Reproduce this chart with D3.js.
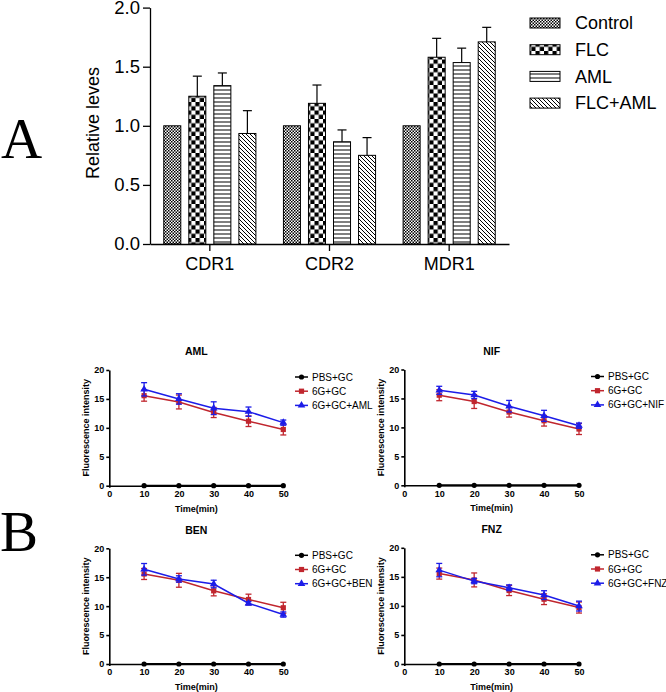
<!DOCTYPE html>
<html><head><meta charset="utf-8">
<script src="https://cdn.jsdelivr.net/npm/d3@7"></script>
<style>body{margin:0;background:#fff}svg{display:block}</style>
</head><body>
<svg id="c" width="666" height="692"></svg>
<script>
// ---------- Panel A data ----------
const categories = ["CDR1", "CDR2", "MDR1"];
const groups = ["Control", "FLC", "AML", "FLC+AML"];
const meanControl = [1.0, 1.0, 1.0];
const meanFLC = [1.25, 1.19, 1.58];
const meanAML = [1.34, 0.865, 1.535];
const meanFLCAML = [0.935, 0.75, 1.71];
const errControl = [0, 0, 0];
const errFLC = [0.17, 0.155, 0.16];
const errAML = [0.107, 0.10, 0.122];
const errFLCAML = [0.193, 0.15, 0.123];
const yTicksA = [0, 0.5, 1.0, 1.5, 2.0];

// ---------- Panel B data ----------
const times = [10, 20, 30, 40, 50];
const xTicksB = [0, 10, 20, 30, 40, 50];
const yTicksB = [0, 5, 10, 15, 20];
const pbsGC = [0, 0, 0, 0, 0];
const g6GC = [15.56, 14.47, 12.65, 11.15, 9.72];
const g6GCErr = [0.95, 1.2, 0.87, 0.92, 0.95];
const amlVals = [16.66, 15.0, 13.4, 12.8, 10.9];
const amlErr = [1.15, 0.9, 1.1, 0.8, 0.45];
const nifVals = [16.4, 15.6, 13.66, 12.0, 10.3];
const nifErr = [0.7, 0.63, 1.0, 0.95, 0.45];
const benVals = [16.37, 14.7, 13.83, 10.5, 8.55];
const benErr = [1.0, 0.55, 0.65, 0.3, 0.45];
const fnzVals = [16.16, 14.27, 13.12, 11.86, 9.97];
const fnzErr = [1.15, 0.45, 0.5, 0.75, 0.85];
const panelTitles = ["AML", "NIF", "BEN", "FNZ"];

const svg = d3.select("#c");
const defs = svg.append("defs");

// patterns
function pat(id, w, h, draw) {
  const p = defs.append("pattern").attr("id", id).attr("patternUnits", "userSpaceOnUse")
    .attr("width", w).attr("height", h);
  p.append("rect").attr("width", w).attr("height", h).attr("fill", "#fff");
  draw(p);
}
pat("pControl", 3, 3, p => {
  p.append("rect").attr("x", 0).attr("y", 0).attr("width", 1.5).attr("height", 1.5).attr("fill", "#000");
  p.append("rect").attr("x", 1.5).attr("y", 1.5).attr("width", 1.5).attr("height", 1.5).attr("fill", "#000");
});
pat("pFLC", 8.5, 8.5, p => {
  p.append("rect").attr("x", 0).attr("y", 0).attr("width", 4.25).attr("height", 4.25).attr("fill", "#000");
  p.append("rect").attr("x", 4.25).attr("y", 4.25).attr("width", 4.25).attr("height", 4.25).attr("fill", "#000");
});
pat("pAML", 4, 4, p => {
  p.append("rect").attr("x", 0).attr("y", 1.5).attr("width", 4).attr("height", 1).attr("fill", "#000");
});
pat("pFLCAML", 4, 4, p => {
  p.append("path").attr("d", "M-1,-1 L5,5 M-1,3 L1,5 M3,-1 L5,1")
    .attr("stroke", "#000").attr("stroke-width", 1);
});
const patIds = ["pControl", "pFLC", "pAML", "pFLCAML"];
const means = [meanControl, meanFLC, meanAML, meanFLCAML];
const errs = [errControl, errFLC, errAML, errFLCAML];

// ---------- Panel A ----------
const gA = svg.append("g");
const yA = d3.scaleLinear().domain([0, 2]).range([244, 7.6]);
const x0 = d3.scaleBand().domain(categories).range([150, 509]);
const x1 = d3.scaleBand().domain(groups).range([0, x0.bandwidth()]).paddingInner(0.32).paddingOuter(0.55);

const barData = [];
categories.forEach((c, ci) => groups.forEach((g, gi) => {
  barData.push({ c, g, gi, v: means[gi][ci], e: errs[gi][ci] });
}));

gA.selectAll("rect.bar").data(barData).join("rect").attr("class", "bar")
  .attr("x", d => x0(d.c) + x1(d.g))
  .attr("width", x1.bandwidth())
  .attr("y", d => yA(d.v))
  .attr("height", d => yA(0) - yA(d.v))
  .attr("fill", d => `url(#${patIds[d.gi]})`)
  .attr("stroke", "#000").attr("stroke-width", 1);

const errG = gA.selectAll("g.err").data(barData.filter(d => d.e > 0)).join("g").attr("class", "err");
errG.append("line")
  .attr("x1", d => x0(d.c) + x1(d.g) + x1.bandwidth() / 2)
  .attr("x2", d => x0(d.c) + x1(d.g) + x1.bandwidth() / 2)
  .attr("y1", d => yA(d.v)).attr("y2", d => yA(d.v + d.e))
  .attr("stroke", "#000").attr("stroke-width", 1.2);
errG.append("line")
  .attr("x1", d => x0(d.c) + x1(d.g) + x1.bandwidth() / 2 - 4.5)
  .attr("x2", d => x0(d.c) + x1(d.g) + x1.bandwidth() / 2 + 4.5)
  .attr("y1", d => yA(d.v + d.e)).attr("y2", d => yA(d.v + d.e))
  .attr("stroke", "#000").attr("stroke-width", 1.2);

const axYA = gA.append("g").attr("transform", "translate(150,0)")
  .call(d3.axisLeft(yA).tickValues(yTicksA).tickFormat(d3.format(".1f")).tickSize(7).tickSizeOuter(0).tickPadding(3));
const axXA = gA.append("g").attr("transform", "translate(0,244)")
  .call(d3.axisBottom(x0).tickSize(7).tickSizeOuter(0).tickPadding(6));
[axYA, axXA].forEach(a => {
  a.selectAll("path,line").attr("stroke", "#000").attr("stroke-width", 1.3);
  a.selectAll("text").attr("font-family", "Liberation Sans, Arial, sans-serif").attr("font-size", 18).attr("fill", "#000");
});
axYA.selectAll("text").attr("font-size", 18.5);

gA.append("text").attr("transform", "translate(99,123) rotate(-90)")
  .attr("text-anchor", "middle").attr("font-family", "Liberation Sans, Arial, sans-serif")
  .attr("font-size", 18).text("Relative leves");

gA.append("text").attr("x", 1).attr("y", 158).attr("font-family", "Liberation Serif, Times New Roman, serif")
  .attr("font-size", 57).text("A");

// legend A
const legA = gA.append("g");
groups.forEach((g, i) => {
  const yy = 23 + i * 26.7;
  legA.append("rect").attr("x", 530).attr("y", yy - 5).attr("width", 30).attr("height", 10)
    .attr("fill", `url(#${patIds[i]})`).attr("stroke", "#000").attr("stroke-width", 1);
  legA.append("text").attr("x", 575).attr("y", yy).attr("dy", "0.35em")
    .attr("font-family", "Liberation Sans, Arial, sans-serif").attr("font-size", 18).text(g);
});

// ---------- Panel B ----------
const RED = "#c0262e", BLUE = "#1c1ce8";
const treatVals = [amlVals, nifVals, benVals, fnzVals];
const treatErr = [amlErr, nifErr, benErr, fnzErr];
const layouts = [
  { x: [109.3, 283.3], y: [485.7, 370], leg: 295 },
  { x: [404.3, 579.0], y: [485.3, 369.5], leg: 591 },
  { x: [109.3, 283.3], y: [664, 548.3], leg: 295 },
  { x: [404.3, 579.0], y: [664, 547.8], leg: 591 }
];
const FONT = "Liberation Sans, Arial, sans-serif";

function marker(sel, type, color, size) {
  if (type === "circle") return sel.append("circle").attr("r", size).attr("fill", color);
  if (type === "square") return sel.append("rect").attr("x", -size).attr("y", -size)
    .attr("width", 2 * size).attr("height", 2 * size).attr("fill", color);
  return sel.append("path").attr("d", d3.symbol(d3.symbolTriangle, size * size * 3.2)()).attr("fill", color);
}

layouts.forEach((L, pi) => {
  const g = svg.append("g");
  const xs = d3.scaleLinear().domain([0, 50]).range(L.x);
  const ys = d3.scaleLinear().domain([0, 20]).range(L.y);
  const series = [
    { name: "PBS+GC", vals: pbsGC, err: null, color: "#000", m: "circle", ms: 2.6 },
    { name: "6G+GC", vals: g6GC, err: g6GCErr, color: RED, m: "square", ms: 2.6 },
    { name: "6G+GC+" + panelTitles[pi], vals: treatVals[pi], err: treatErr[pi], color: BLUE, m: "tri", ms: 2.8 }
  ];

  const ax = g.append("g").attr("transform", `translate(${L.x[0]},0)`)
    .call(d3.axisLeft(ys).tickValues(yTicksB).tickSize(3).tickSizeOuter(0).tickPadding(2));
  const bx = g.append("g").attr("transform", `translate(0,${L.y[0]})`)
    .call(d3.axisBottom(xs).tickValues(xTicksB).tickSize(2).tickSizeOuter(0).tickPadding(3));
  [ax, bx].forEach(a => {
    a.selectAll("path,line").attr("stroke", "#000").attr("stroke-width", 1.6);
    a.selectAll("text").attr("font-family", FONT).attr("font-size", 9).attr("font-weight", "bold").attr("fill", "#000");
  });

  const line = d3.line().x((d, i) => xs(times[i])).y(d => ys(d));
  series.forEach(s => {
    if (s.err) {
      const eg = g.append("g");
      s.vals.forEach((v, i) => {
        const cx = xs(times[i]);
        eg.append("line").attr("x1", cx).attr("x2", cx).attr("y1", ys(v - s.err[i])).attr("y2", ys(v + s.err[i]))
          .attr("stroke", s.color).attr("stroke-width", 1.3);
        [v - s.err[i], v + s.err[i]].forEach(e => {
          eg.append("line").attr("x1", cx - 3).attr("x2", cx + 3).attr("y1", ys(e)).attr("y2", ys(e))
            .attr("stroke", s.color).attr("stroke-width", 1.3);
        });
      });
    }
    g.append("path").datum(s.vals).attr("d", line).attr("fill", "none")
      .attr("stroke", s.color).attr("stroke-width", s.color === "#000" ? 2 : 1.5);
    s.vals.forEach((v, i) => {
      const mg = g.append("g").attr("transform", `translate(${xs(times[i])},${ys(v)})`);
      marker(mg, s.m, s.color, s.ms);
    });
  });

  // title
  g.append("text").attr("x", (L.x[0] + L.x[1]) / 2).attr("y", L.y[1] - 18.3).attr("dy", "0.35em")
    .attr("text-anchor", "middle").attr("font-family", FONT).attr("font-size", 10.5).attr("font-weight", "bold")
    .text(panelTitles[pi]);
  // x label
  g.append("text").attr("x", (L.x[0] + L.x[1]) / 2).attr("y", L.y[0] + 23).attr("dy", "0.35em")
    .attr("text-anchor", "middle").attr("font-family", FONT).attr("font-size", 9).attr("font-weight", "bold")
    .text("Time(min)");
  // y label
  g.append("text").attr("transform", `translate(${L.x[0] - 23},${(L.y[0] + L.y[1]) / 2}) rotate(-90)`)
    .attr("dy", "0.35em").attr("text-anchor", "middle").attr("font-family", FONT).attr("font-size", 9)
    .attr("font-weight", "bold").text("Fluorescence intensity");
  // legend
  series.forEach((s, i) => {
    const yy = L.y[1] + 7 + i * 14.2;
    g.append("line").attr("x1", L.leg).attr("x2", L.leg + 13).attr("y1", yy).attr("y2", yy)
      .attr("stroke", s.color).attr("stroke-width", 1.5);
    const mg = g.append("g").attr("transform", `translate(${L.leg + 6.5},${yy})`);
    marker(mg, s.m, s.color, s.ms);
    g.append("text").attr("x", L.leg + 17).attr("y", yy).attr("dy", "0.35em")
      .attr("font-family", FONT).attr("font-size", 10).text(s.name);
  });
});

svg.append("text").attr("x", 0).attr("y", 551).attr("font-family", "Liberation Serif, Times New Roman, serif")
  .attr("font-size", 57).text("B");
</script>
</body></html>
